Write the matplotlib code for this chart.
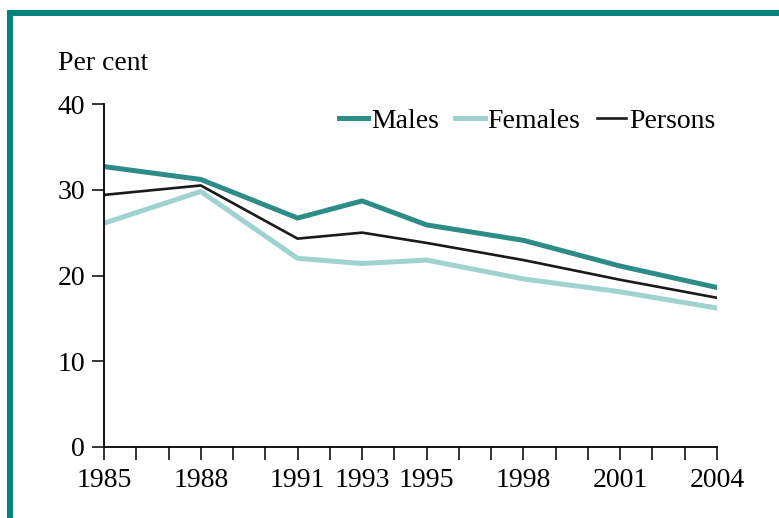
import matplotlib
matplotlib.use("Agg")
import matplotlib.pyplot as plt
from matplotlib.patches import Rectangle

# data
years = [1985, 1988, 1991, 1993, 1995, 1998, 2001, 2004]
males = [32.7, 31.2, 26.7, 28.7, 25.9, 24.1, 21.1, 18.6]
females = [26.1, 29.8, 22.0, 21.4, 21.8, 19.6, 18.1, 16.2]
persons = [29.4, 30.5, 24.3, 25.0, 23.8, 21.8, 19.5, 17.4]

plt.rcParams['font.family'] = ['Liberation Serif', 'DejaVu Serif']
plt.rcParams['font.size'] = 20

fig = plt.figure(figsize=(7.79, 5.18), dpi=100)
W, H = 779, 518
ax = fig.add_axes([104 / W, 1 - 447 / H, (717 - 104) / W, (447 - 104) / H])

ax.plot(years, males, color="#2E8C88", lw=3.6, label="Males")
ax.plot(years, females, color="#9ED3D0", lw=3.6, label="Females")
ax.plot(years, persons, color="#1a1a1a", lw=1.9, label="Persons")

ax.set_xlim(1985, 2004)
ax.set_ylim(0, 40)
ax.set_yticks([0, 10, 20, 30, 40])
ax.set_xticks(years)
ax.set_xticks(range(1985, 2005), minor=True)
ax.tick_params(axis="x", which="both", length=9, width=1.1, pad=6)
ax.tick_params(axis="y", length=8.5, width=1.1, pad=5)
for s in ["top", "right"]:
    ax.spines[s].set_visible(False)
for s in ["left", "bottom"]:
    ax.spines[s].set_linewidth(1.3)

ax.legend(loc="upper right", ncol=3, frameon=False, handlelength=1.05,
          handletextpad=0.1, columnspacing=0.6, borderaxespad=0,
          bbox_to_anchor=(1.015, 1.02))

fig.text(58 / W, 1 - 70 / H, "Per cent", ha="left", va="baseline")

# teal border
teal = "#00827C"
fig.add_artist(Rectangle((7 / W, 0), 6 / W, 1 - 10 / H, transform=fig.transFigure,
                         color=teal, lw=0))
fig.add_artist(Rectangle((7 / W, 1 - 16 / H), 1 - 7 / W, 6 / H, transform=fig.transFigure,
                         color=teal, lw=0))

fig.savefig("out.png", dpi=100)
